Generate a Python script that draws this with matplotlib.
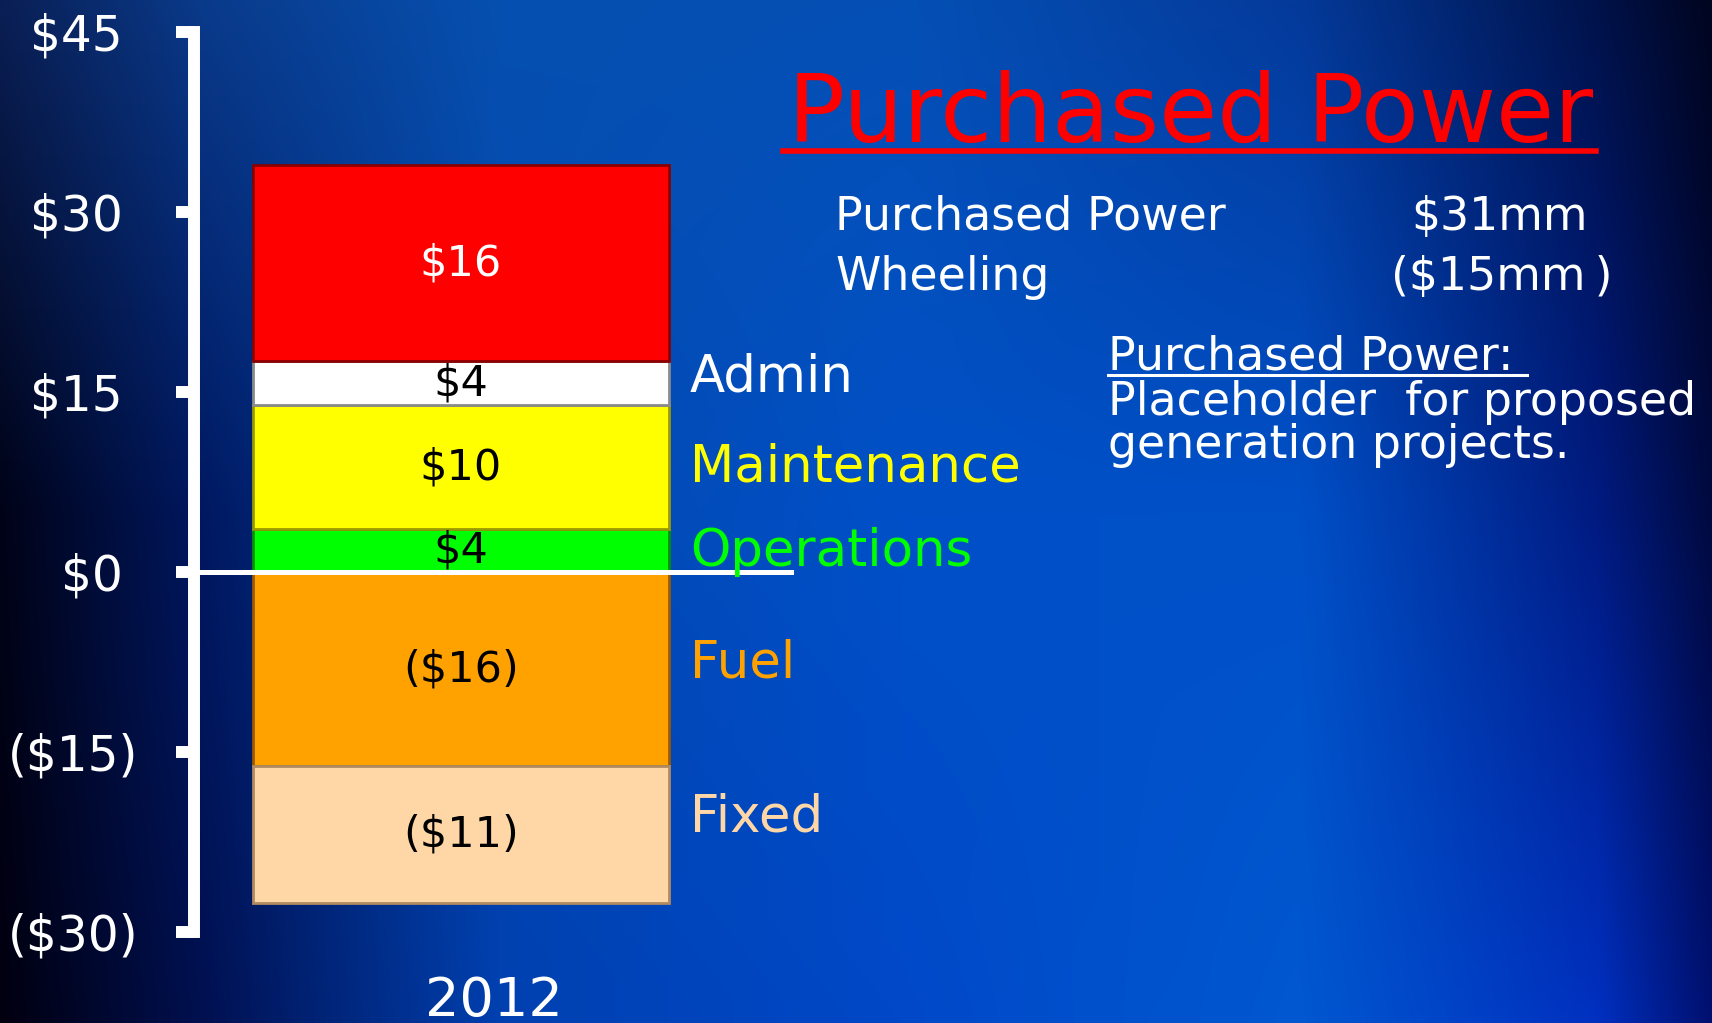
import numpy as np
import matplotlib
matplotlib.use("Agg")
import matplotlib.pyplot as plt
from matplotlib.ticker import FixedLocator, FuncFormatter
from matplotlib.transforms import ScaledTranslation

# stacked components for 2012 ($mm), bottom-up
year = ["2012"]
pos_names = ["Operations", "Maintenance", "Admin", "Purchased Power"]
pos_values = [3.6, 10.3, 3.7, 16.3]
neg_names = ["Fuel", "Fixed"]
neg_values = [-16.2, -11.4]
yticks = [-30, -15, 0, 15, 30, 45]

pos_colors = ["#00ff00", "#ffff00", "#ffffff", "#ff0000"]
neg_colors = ["#ffa200", "#ffd7a6"]
edge_colors = ["#069006", "#9a9a00", "#8a8a8a", "#8a0000", "#9a5a00", "#b08a60"]
label_colors = {"Admin": "white", "Maintenance": "#ffff00", "Operations": "#00ff00",
                "Fuel": "#ffa200", "Fixed": "#ffd7a6"}

W, H = 1712, 1023
fig = plt.figure(figsize=(W / 100, H / 100), dpi=100)

# slide background: dark blue gradient
bg = fig.add_axes([0, 0, 1, 1], zorder=-10)
bg.axis("off")
cx = np.array([0, 200, 500, 900, 1300, 1600, 1712]) / W
rows = {
    0.0: ["#0a1f55", "#0a3a8a", "#0650b0", "#0550b5", "#043a9a", "#00124a", "#000520"],
    0.5: ["#000318", "#001860", "#0448b0", "#0050c8", "#0050c8", "#001a80", "#000a40"],
    1.0: ["#000010", "#001050", "#0040b0", "#0048c8", "#0058d0", "#0030c0", "#001070"],
}
gx = np.linspace(0, 1, 400)
gy = np.linspace(0, 1, 240)
row_img = {}
for k, cols in rows.items():
    rgb = np.array([matplotlib.colors.to_rgb(c) for c in cols])
    row_img[k] = np.stack([np.interp(gx, cx, rgb[:, i]) for i in range(3)], axis=-1)
img = np.zeros((len(gy), len(gx), 3))
for j, t in enumerate(gy):
    if t <= 0.5:
        f = t / 0.5
        img[j] = row_img[0.0] * (1 - f) + row_img[0.5] * f
    else:
        f = (t - 0.5) / 0.5
        img[j] = row_img[0.5] * (1 - f) + row_img[1.0] * f
bg.imshow(img, aspect="auto", extent=[0, 1, 0, 1], interpolation="bicubic")

ax = fig.add_axes([194 / W, 91 / H, 1 - 194 / W, 900 / H])
ax.patch.set_alpha(0)

def money(v):
    return f"${v:.0f}" if v > 0 else f"(${-v:.0f})"

bottom = 0
for i, (name, v) in enumerate(zip(pos_names, pos_values)):
    bars = ax.bar(year, [v], bottom=bottom, width=1.0, color=pos_colors[i],
                  edgecolor=edge_colors[i], linewidth=2, zorder=2)
    ax.bar_label(bars, labels=[money(v)], label_type="center", fontsize=31,
                 color="white" if name == "Purchased Power" else "black")
    bottom += v
bottom = 0
for i, (name, v) in enumerate(zip(neg_names, neg_values)):
    bars = ax.bar(year, [v], bottom=bottom, width=1.0, color=neg_colors[i],
                  edgecolor=edge_colors[4 + i], linewidth=2, zorder=2)
    ax.bar_label(bars, labels=[money(v)], label_type="center", fontsize=31, color="black")
    bottom += v

ax.set_xlim(-0.6418, 3.0072)
ax.set_ylim(-30, 45)
ax.axhline(0, xmin=6 / 1518, xmax=597 / 1518, color="white", linewidth=3.6, zorder=3)

for s in ["top", "right", "bottom"]:
    ax.spines[s].set_visible(False)
ax.spines["left"].set_color("white")
ax.spines["left"].set_linewidth(8.6)
ax.yaxis.set_major_locator(FixedLocator(yticks))
ax.yaxis.set_major_formatter(FuncFormatter(lambda v, p: f"${v:.0f} " if v >= 0 else f"(${-v:.0f})"))
ax.tick_params(axis="y", length=13, width=8.6, color="white", pad=27,
               labelsize=35, labelcolor="white")
ax.tick_params(axis="x", length=0, pad=31, labelsize=39, labelcolor="white")
for lab in ax.get_xticklabels():
    lab.set_transform(lab.get_transform() + ScaledTranslation(0.33, 0, fig.dpi_scale_trans))

# category labels to the right of the bar
label_base = {"Admin": 391, "Maintenance": 481, "Operations": 566, "Fuel": 678, "Fixed": 832}
for name, yb in label_base.items():
    fig.text(690 / W, 1 - yb / H, name, fontsize=37, color=label_colors[name], va="baseline")

def fx(x):
    return x / W

def fy(y):
    return 1 - y / H

# headline and notes
fig.text(fx(788), fy(142), "Purchased Power", fontsize=68, color="#ff0000", va="baseline")
fig.add_artist(plt.Line2D([fx(783), fx(1596)], [fy(151), fy(151)], color="#ff0000", linewidth=4))
fig.text(fx(835), fy(230), "Purchased Power", fontsize=33, color="white", va="baseline")
fig.text(fx(1411), fy(230), "$31mm", fontsize=33, color="white", va="baseline")
fig.text(fx(835), fy(290), "Wheeling", fontsize=33, color="white", va="baseline")
fig.text(fx(1391), fy(290), "($15mm\u2009)", fontsize=33, color="white", va="baseline")
fig.text(fx(1108), fy(369), "Purchased Power:", fontsize=33, color="white", va="baseline")
fig.add_artist(plt.Line2D([fx(1108), fx(1527)], [fy(375), fy(375)], color="white", linewidth=2.2))
fig.text(fx(1108), fy(415), "Placeholder  for proposed", fontsize=33, color="white", va="baseline")
fig.text(fx(1108), fy(458), "generation projects.", fontsize=33, color="white", va="baseline")

fig.savefig("out.png", dpi=100)
